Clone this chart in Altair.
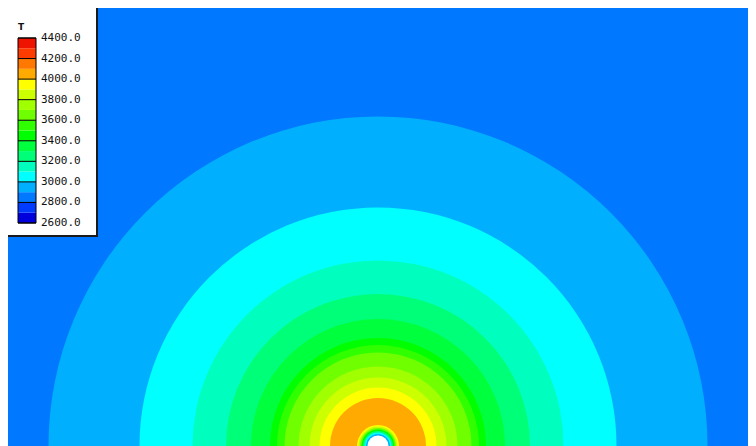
import math
import altair as alt
import pandas as pd

# ---- legend palette (band lower bounds, step 100) ----
levels = [2600, 2700, 2800, 2900, 3000, 3100, 3200, 3300, 3400,
          3500, 3600, 3700, 3800, 3900, 4000, 4100, 4200, 4300]
palette = ["#0000DC", "#003CFF", "#0078FF", "#00B0FF", "#00FFFF", "#00FFBE",
           "#00FF78", "#00FF3C", "#00FF00", "#30FF00", "#70FF00", "#A0FF00",
           "#CCFF00", "#FFFF00", "#FFAA00", "#FF7800", "#FF3C00", "#EE1400"]
band_step = 100

# ---- legend tick values and labels ----
tick_values = [2600, 2800, 3000, 3200, 3400, 3600, 3800, 4000, 4200, 4400]
tick_labels = ["2600.0", "2800.0", "3000.0", "3200.0", "3400.0",
               "3600.0", "3800.0", "4000.0", "4200.0", "4400.0"]

# ---- contour rings (outer radius in px units, band value), drawn largest first ----
ring_T = [2900, 3000, 3100, 3200, 3300, 3400, 3500, 3600, 3700, 3800, 3900, 4000,
          3900, 3800, 3600, 3400, 3200, 3000, 2900]
ring_r = [329.5, 238.5, 185.5, 152, 127, 108, 101, 93.5, 79.5, 68.5, 58.5, 48,
          21, 19.5, 18, 16.5, 15, 13.5, 12]
hole_r = [10.5]

W, H = 740, 438

xs = alt.Scale(domain=[-370, 370])
ys = alt.Scale(domain=[0, 438])
rs = alt.Scale(type="linear", domain=[0, 100], range=[0, 100], zero=True)
cs = alt.Scale(domain=levels, range=palette)

rings = pd.DataFrame({"cx": [0] * len(ring_r), "cy": [0] * len(ring_r),
                      "r": ring_r, "T": ring_T})
hole = pd.DataFrame({"cx": [0], "cy": [0], "r": hole_r})

arcs = alt.Chart(rings).mark_arc(theta=1.5 * math.pi, theta2=2.5 * math.pi,
                                 strokeWidth=0).encode(
    x=alt.X("cx:Q", scale=xs, axis=None),
    y=alt.Y("cy:Q", scale=ys, axis=None),
    radius=alt.Radius("r:Q", scale=rs, stack=False),
    color=alt.Color("T:O", scale=cs, legend=None),
)

hole_layer = alt.Chart(hole).mark_arc(theta=1.5 * math.pi, theta2=2.5 * math.pi,
                                      color="white", strokeWidth=0).encode(
    x=alt.X("cx:Q", scale=xs, axis=None),
    y=alt.Y("cy:Q", scale=ys, axis=None),
    radius=alt.Radius("r:Q", scale=rs, stack=False),
)

# ---- legend ----
ts = alt.Scale(domain=[tick_values[0], tick_values[-1]], range=[215, 30])

box = alt.Chart(pd.DataFrame({"a": [0]})).mark_rect(color="white").encode(
    x=alt.value(0), x2=alt.value(89), y=alt.value(0), y2=alt.value(228))
box_r = alt.Chart(pd.DataFrame({"a": [0]})).mark_rule(color="#1a1a1a", strokeWidth=2).encode(
    x=alt.value(89), y=alt.value(0), y2=alt.value(229))
box_b = alt.Chart(pd.DataFrame({"a": [0]})).mark_rule(color="#1a1a1a", strokeWidth=2).encode(
    x=alt.value(0), x2=alt.value(90), y=alt.value(228))

leg_df = pd.DataFrame({"T": levels, "T2": [v + band_step for v in levels]})
leg_bands = alt.Chart(leg_df).mark_rect().encode(
    y=alt.Y("T:Q", scale=ts, axis=None),
    y2="T2:Q",
    x=alt.value(10), x2=alt.value(28),
    color=alt.Color("T:O", scale=cs, legend=None),
)

tick_df = pd.DataFrame({"v": tick_values, "label": tick_labels})
leg_lines = alt.Chart(tick_df).mark_rule(color="black", strokeWidth=1).encode(
    y=alt.Y("v:Q", scale=ts, axis=None),
    x=alt.value(10), x2=alt.value(28),
)
frame_df = pd.DataFrame({"lo": [tick_values[0]], "hi": [tick_values[-1]]})
leg_frame = alt.Chart(frame_df).mark_rect(filled=False, stroke="black", strokeWidth=1).encode(
    y=alt.Y("lo:Q", scale=ts, axis=None), y2="hi:Q",
    x=alt.value(10), x2=alt.value(28),
)
leg_text = alt.Chart(tick_df).mark_text(align="left", baseline="middle",
                                        font="DejaVu Sans Mono", fontSize=11,
                                        color="#111111").encode(
    y=alt.Y("v:Q", scale=ts, axis=None),
    x=alt.value(33),
    text="label:N",
)
leg_title = alt.Chart(pd.DataFrame({"a": [0]})).mark_text(
    text="T", font="DejaVu Sans", fontSize=9, fontWeight="bold",
    align="left", baseline="middle", color="#111111").encode(
    x=alt.value(10), y=alt.value(19))

chart = alt.layer(
    arcs, hole_layer, box, box_r, box_b, leg_bands, leg_lines, leg_frame, leg_text, leg_title
).resolve_scale(x="independent", y="independent").properties(
    width=W, height=H, padding=0, background="white",
    autosize=alt.AutoSizeParams(type="none")
).configure_view(strokeWidth=0, fill="#0078FF")

chart.save("out.html", embed_options={"renderer": "svg", "actions": False})
